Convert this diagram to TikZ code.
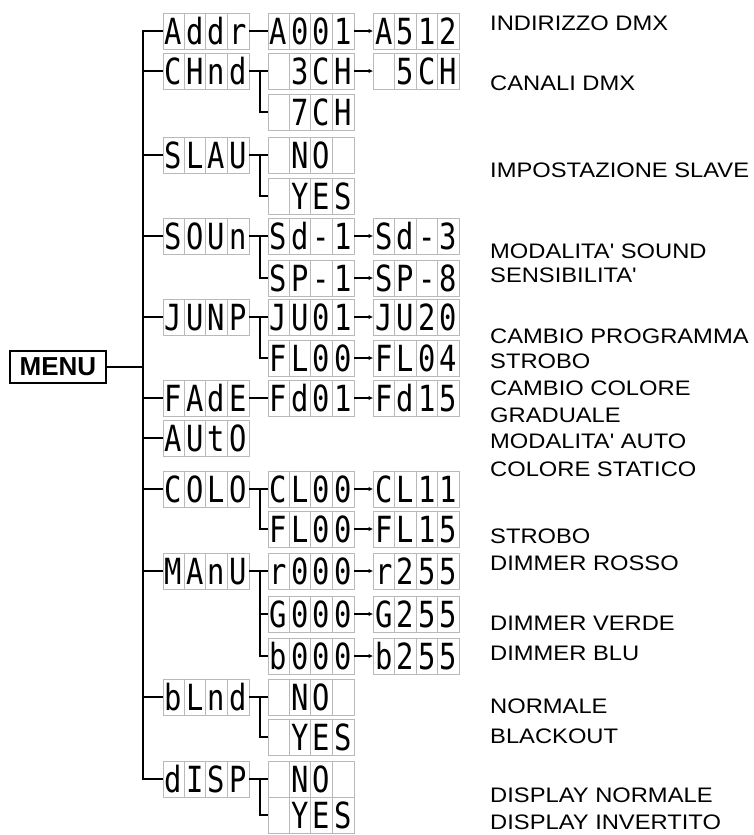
\documentclass[tikz,border=0pt]{standalone}
\usepackage{fontspec}
\setmainfont{Liberation Sans}
\newfontfamily\segfont[FakeStretch=0.8]{DejaVu Sans Mono}
\newfontfamily\descfont[FakeStretch=1.13]{Liberation Sans}
\usetikzlibrary{arrows.meta}

%4桁の表示器
\newcommand{\lcd}[7]{%
  \node[lcdbox] (#1) at (#2,#3) {};
  \foreach \k in {1,2,3}
    \draw[lcdgrid] ([xshift=\k*21.5pt]#1.north west) -- ([xshift=\k*21.5pt]#1.south west);
  \node[seg] (#1-1) at ([xshift=10.75pt,yshift=-13pt]#1.west) {#4};
  \node[seg] (#1-2) at ([xshift=32.25pt,yshift=-13pt]#1.west) {#5};
  \node[seg] (#1-3) at ([xshift=53.75pt,yshift=-13pt]#1.west) {#6};
  \node[seg] (#1-4) at ([xshift=75.25pt,yshift=-13pt]#1.west) {#7};
}

\begin{document}
\begin{tikzpicture}[x=1pt, y=-1pt,
    lcdbox/.style={draw=gray!55, line width=0.8pt, minimum width=86pt, minimum height=36pt, inner sep=0pt},
    lcdgrid/.style={draw=gray!55, line width=0.8pt},
    seg/.style={anchor=base, inner sep=0pt, font={\segfont\fontsize{36}{36}\selectfont}},
    desc/.style={anchor=base west, inner sep=0pt, font={\descfont\fontsize{21}{24}\selectfont}},
    trunk/.style={line width=2.6pt, line join=miter},
    branch/.style={line width=2pt},
    nextval/.style={line width=1.6pt, -{Latex[length=4.5pt,width=4.5pt]}}]
  \useasboundingbox (0,0) rectangle (753,835);

  %メニュー
  \node[draw, line width=1.8pt, minimum width=96pt, minimum height=32pt, inner sep=0pt,
        font={\bfseries\fontsize{26}{26}\selectfont}] (menu) at (58,367) {MENU};

  %第1階層
  \lcd{addr}{206}{31}{A}{d}{d}{r}
  \lcd{chnd}{206}{71}{C}{H}{n}{d}
  \lcd{slav}{206}{155}{S}{L}{A}{U}
  \lcd{soun}{206}{236}{S}{O}{U}{n}
  \lcd{jump}{206}{317}{J}{U}{N}{P}
  \lcd{fade}{206}{398}{F}{A}{d}{E}
  \lcd{auto}{206}{438}{A}{U}{t}{O}
  \lcd{colo}{206}{489}{C}{O}{L}{O}
  \lcd{manu}{206}{571}{M}{A}{n}{U}
  \lcd{blnd}{206}{697}{b}{L}{n}{d}
  \lcd{disp}{206}{779}{d}{I}{S}{P}

  %第2階層
  \lcd{a001}{311}{31}{A}{0}{0}{1}
  \lcd{ch3}{311}{71}{}{3}{C}{H}
  \lcd{ch7}{311}{112}{}{7}{C}{H}
  \lcd{slno}{311}{155}{}{N}{O}{}
  \lcd{slyes}{311}{196}{}{Y}{E}{S}
  \lcd{sd1}{311}{236}{S}{d}{-}{1}
  \lcd{sp1}{311}{278}{S}{P}{-}{1}
  \lcd{ju01}{311}{317}{J}{U}{0}{1}
  \lcd{fl00}{311}{358}{F}{L}{0}{0}
  \lcd{fd01}{311}{398}{F}{d}{0}{1}
  \lcd{cl00}{311}{489}{C}{L}{0}{0}
  \lcd{flc00}{311}{529}{F}{L}{0}{0}
  \lcd{r000}{311}{571}{r}{0}{0}{0}
  \lcd{g000}{311}{614}{G}{0}{0}{0}
  \lcd{b000}{311}{656}{b}{0}{0}{0}
  \lcd{blno}{311}{697}{}{N}{O}{}
  \lcd{blyes}{311}{737}{}{Y}{E}{S}
  \lcd{dino}{311}{779}{}{N}{O}{}
  \lcd{diyes}{311}{815}{}{Y}{E}{S}

  %第3階層
  \lcd{a512}{416.5}{31}{A}{5}{1}{2}
  \lcd{ch5}{416.5}{71}{}{5}{C}{H}
  \lcd{sd3}{416.5}{236}{S}{d}{-}{3}
  \lcd{sp8}{416.5}{278}{S}{P}{-}{8}
  \lcd{ju20}{416.5}{317}{J}{U}{2}{0}
  \lcd{fl04}{416.5}{358}{F}{L}{0}{4}
  \lcd{fd15}{416.5}{398}{F}{d}{1}{5}
  \lcd{cl11}{416.5}{489}{C}{L}{1}{1}
  \lcd{flc15}{416.5}{529}{F}{L}{1}{5}
  \lcd{r255}{416.5}{571}{r}{2}{5}{5}
  \lcd{g255}{416.5}{614}{G}{2}{5}{5}
  \lcd{b255}{416.5}{656}{b}{2}{5}{5}

  %幹線
  \coordinate (tr) at (143,0);
  \coordinate (fk) at (260,0);
  \draw[trunk] (addr.west) -- (addr.west -| tr) -- (disp.west -| tr) -- (disp.west);
  \draw[branch] (menu.east) -- (menu.east -| tr);
  \foreach \n in {chnd,slav,soun,jump,fade,auto,colo,manu,blnd}
    \draw[branch] (\n.west -| tr) -- (\n.west);

  %分岐
  \draw[branch] (addr.east) -- (a001.west);
  \draw[branch] (fade.east) -- (fd01.west);
  \foreach \p/\a/\b in {chnd/ch3/ch7, slav/slno/slyes, soun/sd1/sp1, jump/ju01/fl00,
                        colo/cl00/flc00, manu/r000/b000, blnd/blno/blyes, disp/dino/diyes}{
    \draw[branch] (\p.east) -- (\a.west);
    \draw[branch] (\p.east -| fk) |- (\b.west);
  }
  \draw[branch] (g000.west -| fk) -- (g000.west);

  %値の変化
  \foreach \a/\b in {a001/a512, ch3/ch5, sd1/sd3, sp1/sp8, ju01/ju20, fl00/fl04,
                     fd01/fd15, cl00/cl11, flc00/flc15, r000/r255, g000/g255, b000/b255}
    \draw[nextval] (\a.east) -- (\b.west);

  %説明
  \node[desc] (t1) at (490,30) {INDIRIZZO DMX};
  \node[desc] (t2) at (490,90) {CANALI DMX};
  \node[desc] (t3) at (490,177) {IMPOSTAZIONE SLAVE};
  \node[desc] (t4) at (490,258) {MODALITA' SOUND};
  \node[desc] (t5) at (490,282) {SENSIBILITA'};
  \node[desc] (t6) at (490,343) {CAMBIO PROGRAMMA};
  \node[desc] (t7) at (490,368) {STROBO};
  \node[desc] (t8) at (490,395) {CAMBIO COLORE};
  \node[desc] (t9) at (490,422) {GRADUALE};
  \node[desc] (t10) at (490,448) {MODALITA' AUTO};
  \node[desc] (t11) at (490,476) {COLORE STATICO};
  \node[desc] (t12) at (490,543) {STROBO};
  \node[desc] (t13) at (490,570) {DIMMER ROSSO};
  \node[desc] (t14) at (490,630) {DIMMER VERDE};
  \node[desc] (t15) at (490,660) {DIMMER BLU};
  \node[desc] (t16) at (490,713) {NORMALE};
  \node[desc] (t17) at (490,743) {BLACKOUT};
  \node[desc] (t18) at (490,802) {DISPLAY NORMALE};
  \node[desc] (t19) at (490,829) {DISPLAY INVERTITO};
\end{tikzpicture}
\end{document}
